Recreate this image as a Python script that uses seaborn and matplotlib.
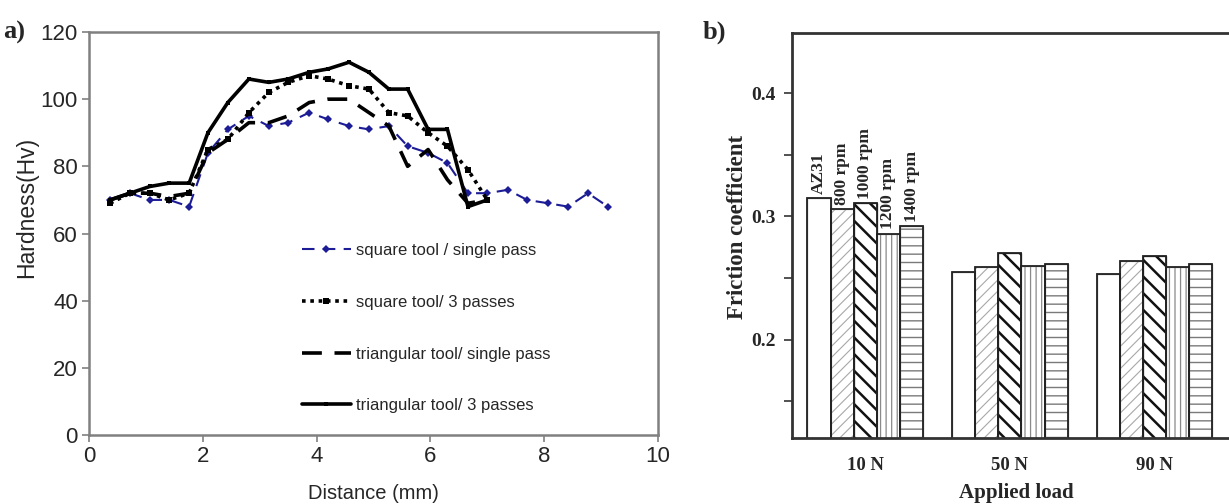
import numpy as np
import pandas as pd
import matplotlib
matplotlib.use("Agg")
import matplotlib.pyplot as plt
import seaborn as sns

# ---------------- data: panel a ----------------
distance = [0.37, 0.72, 1.07, 1.41, 1.76, 2.09, 2.44, 2.81, 3.16, 3.5, 3.87, 4.2, 4.57,
            4.92, 5.27, 5.6, 5.96, 6.3, 6.66, 7.0, 7.36, 7.7, 8.07, 8.42, 8.77, 9.12]
square_single = [70, 72, 70, 70, 68, 84, 91, 95, 92, 93, 96, 94, 92,
                 91, 92, 86, 84, 81, 72, 72, 73, 70, 69, 68, 72, 68]
square_3 = [69, 72, 72, 70, 72, 85, 88, 96, 102, 105, 107, 106, 104,
            103, 96, 95, 90, 86, 79, 70]
tri_single = [70, 72, 72, 71, 72, 84, 88, 93, 93, 95, 99, 100, 100,
              96, 92, 80, 85, 76, 69, 70]
tri_3 = [70, 72, 74, 75, 75, 90, 99, 106, 105, 106, 108, 109, 111,
         108, 103, 103, 91, 91, 68, 70]
series_labels = ["square tool / single pass", "square tool/ 3 passes",
                 "triangular tool/ single pass", "triangular tool/ 3 passes"]

# ---------------- data: panel b ----------------
loads = ["10 N", "50 N", "90 N"]
conditions = ["AZ31", "800 rpm", "1000 rpm", "1200 rpm", "1400 rpm"]
az31 = [0.315, 0.2545, 0.2535]
rpm800 = [0.306, 0.2587, 0.2634]
rpm1000 = [0.3105, 0.270, 0.268]
rpm1200 = [0.286, 0.260, 0.2587]
rpm1400 = [0.292, 0.261, 0.261]

sns.set_theme(style="white")
plt.rcParams["font.family"] = ["Liberation Sans", "DejaVu Sans"]
SERIF = ["Liberation Serif", "DejaVu Serif"]

fig = plt.figure(figsize=(12.29, 5.04), dpi=100)

# ================= panel a =================
W, H = 1229, 504
axa = fig.add_axes([89 / W, 1 - 435 / H, (658 - 89) / W, (435 - 32) / H])
navy = "#1c1c96"
sns.lineplot(x=distance, y=square_single, ax=axa, color=navy, lw=1.5,
             linestyle=(0, (6, 4)), marker="D", markersize=4, markeredgewidth=0,
             label=series_labels[0])
sns.lineplot(x=distance[:len(square_3)], y=square_3, ax=axa, color="black", lw=2.6,
             linestyle=(0, (1, 1.3)), marker="s", markersize=5, markeredgewidth=0,
             label=series_labels[1])
sns.lineplot(x=distance[:len(tri_single)], y=tri_single, ax=axa, color="black", lw=2.6,
             linestyle=(0, (5.5, 3.5)), label=series_labels[2])
sns.lineplot(x=distance[:len(tri_3)], y=tri_3, ax=axa, color="black", lw=2.6,
             linestyle="-", marker="s", markersize=3, markeredgewidth=0,
             label=series_labels[3])

axa.set_xlim(0, 10)
axa.set_ylim(0, 120)
axa.set_xticks(np.arange(0, 11, 2))
axa.set_yticks(np.arange(0, 121, 20))
axa.tick_params(axis="both", which="major", direction="out", length=5, width=1.2,
                color="#808080", labelsize=16, pad=3, bottom=True, left=True)
for s in axa.spines.values():
    s.set_color("#808080")
    s.set_linewidth(1.8)
axa.set_xlabel("Distance (mm)", fontsize=14.5, labelpad=12)
axa.set_ylabel("Hardness(Hv)", fontsize=16.5, labelpad=2)
axa.yaxis.label.set_y(0.565)
leg = axa.legend(loc="center left", bbox_to_anchor=(0.36, 0.265), frameon=False,
                 fontsize=12, handlelength=2.9, labelspacing=2.2,
                 handletextpad=0.35, borderpad=0)
fig.text(3 / W, 1 - 32 / H, "a)", fontsize=19, fontweight="bold",
         family=SERIF, va="center", ha="left")

# ================= panel b =================
axb = fig.add_axes([792 / W, 1 - 438 / H, (1229 - 792) / W + 0.01, (438 - 33) / H])
df = pd.DataFrame({
    "load": loads * 5,
    "cond": [c for c in conditions for _ in loads],
    "value": az31 + rpm800 + rpm1000 + rpm1200 + rpm1400,
})
white_pal = {c: "white" for c in conditions}
sns.barplot(data=df, x="load", y="value", hue="cond", order=loads, hue_order=conditions,
            palette=white_pal, ax=axb, legend=False, errorbar=None, width=0.8,
            linewidth=0.9, edgecolor="#777777", saturation=1)
hatches = ["", "///", "\\\\", "|||", "--"]
hatch_cols = ["#777777", "#a8a8a8", "#111111", "#8a8a8a", "#7a7a7a"]
hatch_lw = [1.0, 0.8, 1.8, 0.9, 1.0]
for cont, h, hc, hl in zip(axb.containers, hatches, hatch_cols, hatch_lw):
    for p in cont.patches:
        p.set_hatch(h)
        p.set_edgecolor(hc)
        if hasattr(p, "set_hatch_linewidth"):
            p.set_hatch_linewidth(hl)
# outlines on top
sns.barplot(data=df, x="load", y="value", hue="cond", order=loads, hue_order=conditions,
            ax=axb, legend=False, errorbar=None, width=0.8, fill=False,
            linewidth=1.3, edgecolor="#222222")

# rotated labels above the 10 N bars
for cont, name in zip(axb.containers[:5], conditions):
    p = cont.patches[0]
    axb.annotate(name, (p.get_x() + p.get_width() / 2, p.get_height()),
                 xytext=(0, 3), textcoords="offset points", rotation=90,
                 ha="center", va="bottom", fontsize=12.5, fontweight="bold",
                 family=SERIF)

axb.set_xlim(-0.507, 2.6)
axb.set_ylim(0.12, 0.449)
axb.set_yticks([0.2, 0.3, 0.4])
axb.set_yticklabels(["0.2", "0.3", "0.4"])
axb.set_yticks([0.15, 0.25, 0.35], minor=True)
axb.tick_params(axis="y", which="both", direction="out", length=6, width=1.2,
                color="#333333", left=True, labelsize=14, pad=6)
axb.tick_params(axis="x", which="both", bottom=False, labelsize=13.5, pad=8)
for lab in axb.get_xticklabels() + axb.get_yticklabels():
    lab.set_family(SERIF)
    lab.set_fontweight("bold")
for k in ["left", "bottom", "top"]:
    axb.spines[k].set_color("#333333")
    axb.spines[k].set_linewidth(2)
axb.spines["right"].set_visible(False)
axb.set_xlabel("Applied load", fontsize=15, fontweight="bold",
               family=SERIF, labelpad=6)
axb.set_ylabel("Friction coefficient", fontsize=16.5, fontweight="bold",
               family=SERIF, labelpad=2)
axb.yaxis.label.set_y(0.52)
fig.text(703 / W, 1 - 32 / H, "b)", fontsize=19, fontweight="bold",
         family=SERIF, va="center", ha="left")

fig.savefig("out.png", dpi=100)
